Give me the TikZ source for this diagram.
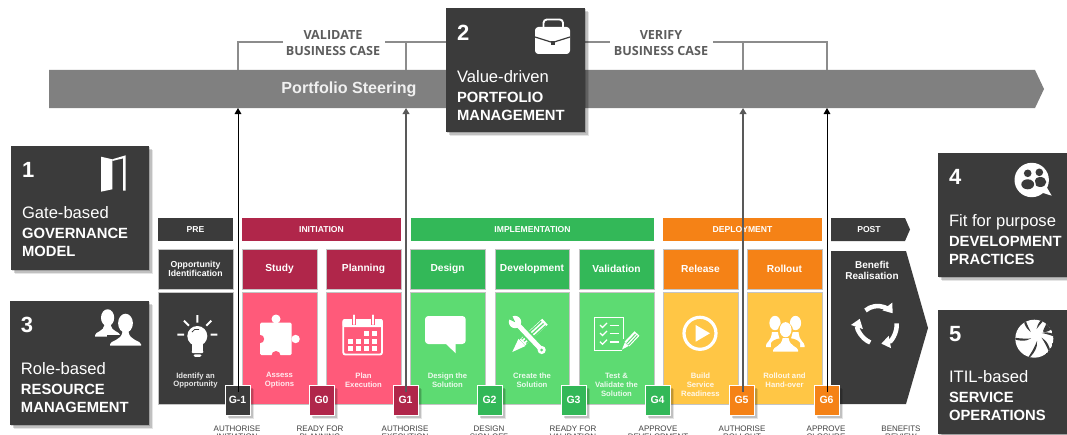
\documentclass[tikz,border=0pt]{standalone}
\usepackage{fontspec}
\setmainfont{Liberation Sans}
\newfontfamily\capfont{Open Sans}
\usetikzlibrary{arrows.meta,shadows}
\definecolor{boxdark}{HTML}{3B3B3B}
\definecolor{crim}{HTML}{B0264A}
\definecolor{pinkc}{HTML}{FF5A7A}
\definecolor{greend}{HTML}{33B858}
\definecolor{greenl}{HTML}{5DDB72}
\definecolor{orangec}{HTML}{F58216}
\definecolor{yellowc}{HTML}{FFC645}
\definecolor{barc}{HTML}{808080}
\definecolor{brk}{HTML}{8C8C8C}
\definecolor{capc}{HTML}{404040}
\definecolor{edgec}{HTML}{C4C4C4}
\newcommand\fpx[2]{\fontsize{\fpeval{#1*0.75}pt}{\fpeval{#2*0.75}pt}\selectfont}
% name, x1, y1, x2, y2, style, text
\newcommand\card[7]{\node[#6,minimum width={(#4-#2)*0.75pt},minimum height={(#5-#3)*0.75pt}] (#1) at ({(#2+#4)/2},{(#3+#5)/2}) {#7};}
% cx, bottom, half width, head height, head rx, colour
\newcommand\person[6]{\begin{scope}[shift={(#1,#2)}]
\fill[#6] (0,-#4) ellipse [x radius=#5,y radius=#5*1.28];
\fill[#6] (-#3,0) -- (-#3,-1.5) .. controls (-#3,-5) and (-4,-5) .. (-3,-#4*0.62) -- (3,-#4*0.62) .. controls (4,-5) and (#3,-5) .. (#3,-1.5) -- (#3,0) -- cycle;
\end{scope}}
\tikzset{
  x=0.75pt,y=-0.75pt,
  base/.style={inner sep=0pt,outer sep=0pt},
  softsh/.style={general shadow={fill=black,opacity=.16,shadow xshift=1pt,shadow yshift=-1pt},
                 general shadow={fill=black,opacity=.16,shadow xshift=2pt,shadow yshift=-2pt},
                 general shadow={fill=black,opacity=.10,shadow xshift=3pt,shadow yshift=-3pt}},
  bigbox/.style={base,fill=boxdark,softsh},
  num/.style={base,text=white,anchor=west,font=\fpx{22}{24}\bfseries},
  boxtxt/.style={base,text=white,anchor=north west,align=left,font=\fpx{14.8}{18}},
  phase/.style={base,fill=#1,text=white,font=\fpx{8.6}{10}\bfseries},
  stage/.style={base,fill=#1,draw=edgec,line width=.4pt,text=white,font=\fpx{10.2}{12}\bfseries},
  body/.style={base,fill=#1,draw=edgec,line width=.4pt},
  desc/.style={base,text=white,text opacity=.88,align=center,font=\fpx{7.7}{8.9}\bfseries},
  gatebox/.style={base,fill=#1,draw=white,line width=.75pt,text=white,softsh,font=\fpx{10.5}{12}\bfseries},
  gatecap/.style={base,text=capc,align=center,font=\fpx{8}{8}},
  conn/.style={black,line width=.65pt,-{Triangle[length=4.5pt,width=5pt]}},
  connsoft/.style={conn,draw=black!65,line width=1.1pt},
  bracket/.style={brk,line width=1.7pt},
  brklab/.style={base,text=capc!85!white,align=center,font=\capfont\fpx{12.6}{16}\bfseries},
  ic/.style={fill=white,draw=none},
}
\begin{document}
\begin{tikzpicture}
\useasboundingbox (0,0) rectangle (1067,435);
\clip (0,0) rectangle (1067,435);
\fill[white] (0,0) rectangle (1067,435);

% portfolio bar
\fill[barc] (49,70) -- (1035,70) -- (1044,89) -- (1035,108) -- (49,108) -- cycle;
\coordinate (barS) at (49,108);
\coordinate (barN) at (49,70);
\node[base,text=white!94!black,font=\fpx{16.1}{18}\bfseries] (steer) at (349,89) {Portfolio Steering};

% brackets
\coordinate (bl1) at (283,42); \coordinate (bl2) at (385,42);
\coordinate (br1) at (610,42); \coordinate (br2) at (713,42);
\coordinate (jA) at (238,42); \coordinate (jB) at (406,42); \coordinate (jC) at (743,42); \coordinate (jD) at (827,42);
\draw[bracket] (bl1) -- (jA) -- (jA |- barN);
\draw[bracket] (jB |- barN) -- (jB);
\draw[bracket] (bl2) -- (446,42);
\draw[bracket] (585,42) -- (br1);
\draw[bracket] (br2) -- (jD) -- (jD |- barN);
\draw[bracket] (jC) -- (jC |- barN);
\node[brklab] (vbc) at (333,43.5) {VALIDATE\\BUSINESS CASE};
\node[brklab] (vfbc) at (661,43.5) {VERIFY\\BUSINESS CASE};

% big boxes
\card{b1}{11}{146}{149}{270}{bigbox}{}
\card{b3}{10}{301}{149}{425}{bigbox}{}
\card{b2}{446}{8}{585}{132}{bigbox}{}
\card{b4}{938}{153}{1080}{277}{bigbox}{}
\card{b5}{938}{310}{1080}{434}{bigbox}{}
\newcommand\lt[1]{{\fpx{16.6}{18}#1}}
\newcommand\bt[1]{{\bfseries #1}}
\node[num] (n1) at (22,170) {1};
\node[boxtxt] (t1) at (22,206) {\lt{Gate-based}\\[1.5pt]\bt{GOVERNANCE}\\\bt{MODEL}};
\node[num] (n3) at (21,325) {3};
\node[boxtxt] (t3) at (21,362) {\lt{Role-based}\\[1.5pt]\bt{RESOURCE}\\\bt{MANAGEMENT}};
\node[num] (n2) at (457,33) {2};
\node[boxtxt] (t2) at (457,70) {\lt{Value-driven}\\[1.5pt]\bt{PORTFOLIO}\\\bt{MANAGEMENT}};
\node[num] (n4) at (949,177) {4};
\node[boxtxt] (t4) at (949,214) {\lt{Fit for purpose}\\[1.5pt]\bt{DEVELOPMENT}\\\bt{PRACTICES}};
\node[num] (n5) at (949,334) {5};
\node[boxtxt] (t5) at (949,370) {\lt{ITIL-based}\\[1.5pt]\bt{SERVICE}\\\bt{OPERATIONS}};

% phase headers
\card{pPre}{158}{218}{233}{241}{phase=boxdark}{PRE}
\card{pIni}{242}{218}{401}{241}{phase=crim}{INITIATION}
\card{pImp}{411}{218}{654}{241}{phase=greend}{IMPLEMENTATION}
\card{pDep}{663}{218}{822}{241}{phase=orangec}{DEPLOYMENT}
\fill[boxdark] (831,218) -- (905,218) -- (910,229.5) -- (905,241) -- (831,241) -- cycle;
\node[base,text=white,font=\fpx{8.6}{10}\bfseries] (pPost) at (869,229.5) {POST};

% stages
\card{sOpp}{158}{249}{233}{289}{stage=boxdark,align=center,font=\fpx{8.7}{9.6}\bfseries}{Opportunity\\Identification}
\card{sStu}{242}{249}{317}{289}{stage=crim}{Study}
\card{sPla}{326}{249}{401}{289}{stage=crim}{Planning}
\card{sDes}{410}{249}{485}{289}{stage=greend}{Design}
\card{sDev}{495}{249}{569}{289}{stage=greend}{Development}
\card{sVal}{579}{249}{654}{289}{stage=greend}{Validation}
\card{sRel}{663}{249}{738}{289}{stage=orangec}{Release}
\card{sRol}{747}{249}{822}{289}{stage=orangec}{Rollout}

% bodies
\card{cOpp}{158}{292}{233}{404}{body=boxdark}{}
\card{cStu}{242}{292}{317}{404}{body=pinkc}{}
\card{cPla}{326}{292}{401}{404}{body=pinkc}{}
\card{cDes}{410}{292}{485}{404}{body=greenl}{}
\card{cDev}{495}{292}{569}{404}{body=greenl}{}
\card{cVal}{579}{292}{654}{404}{body=greenl}{}
\card{cRel}{663}{292}{738}{404}{body=yellowc}{}
\card{cRol}{747}{292}{822}{404}{body=yellowc}{}
\fill[boxdark] (831,251) -- (906,251) -- (928,328) -- (906,404) -- (831,404) -- cycle;
\node[base,text=white,align=center,font=\fpx{10}{11}\bfseries] (benefit) at (872,270.5) {Benefit\\Realisation};

% descriptions
\node[desc] (dOpp) at (195.5,380.5) {Identify an\\Opportunity};
\node[desc] (dStu) at (279.5,380.5) {Assess\\Options};
\node[desc] (dPla) at (363.5,380.5) {Plan\\Execution};
\node[desc] (dDes) at (447.5,380.5) {Design the\\Solution};
\node[desc] (dDev) at (532,380.5) {Create the\\Solution};
\node[desc] (dVal) at (616.5,385) {Test \&\\Validate the\\Solution};
\node[desc] (dRel) at (700.5,385) {Build\\Service\\Readiness};
\node[desc] (dRol) at (784.5,380.5) {Rollout and\\Hand-over};

% gates
\card{gm1}{225}{385}{250}{415}{gatebox=boxdark}{G-1}
\card{g0}{309}{385}{334}{415}{gatebox=crim}{G0}
\card{g1}{393}{385}{418}{415}{gatebox=crim}{G1}
\card{g2}{477}{385}{502}{415}{gatebox=greend}{G2}
\card{g3}{561}{385}{586}{415}{gatebox=greend}{G3}
\card{g4}{645}{385}{670}{415}{gatebox=greend}{G4}
\card{g5}{729}{385}{754}{415}{gatebox=orangec}{G5}
\card{g6}{814}{385}{839}{415}{gatebox=orangec}{G6}

% gate connectors
\coordinate (am1) at ([shift={(.5,7)}]gm1.north);
\coordinate (a1) at ([shift={(.5,7)}]g1.north);
\coordinate (a5) at ([shift={(1.5,7)}]g5.north);
\coordinate (a6) at ([shift={(.5,7)}]g6.north);
\draw[conn] (am1) -- (am1 |- barS);
\draw[connsoft] (a1) -- (a1 |- barS);
\draw[connsoft] (a5) -- (a5 |- barS);
\draw[conn] (a6) -- (a6 |- barS);

% gate captions (cut by the page edge, as in the source)
\node[gatecap] (cm1) at (237,433) {AUTHORISE\\INITIATION};
\node[gatecap] (c0) at (320,433) {READY FOR\\PLANNING};
\node[gatecap] (c1) at (405,433) {AUTHORISE\\EXECUTION};
\node[gatecap] (c2) at (489,433) {DESIGN\\SIGN-OFF};
\node[gatecap] (c3) at (573,433) {READY FOR\\VALIDATION};
\node[gatecap] (c4) at (658,433) {APPROVE\\DEVELOPMENT};
\node[gatecap] (c5) at (742,433) {AUTHORISE\\ROLLOUT};
\node[gatecap] (c6) at (826,433) {APPROVE\\CLOSURE};
\node[gatecap] (c7) at (901,433) {BENEFITS\\REVIEW};

% ---------- icons ----------
% door
\fill[ic] (101,156.7) -- (112.3,159.3) -- (112.3,189.3) -- (101,191.7) -- cycle;
\fill[ic] (112.3,159.3) -- (125.7,155.3) -- (125.7,190.7) -- (123,190.7) -- (123,158.4) -- (112.3,161) -- cycle;
% people
\person{107.6}{336.7}{12.5}{19}{6.6}{white}
\begin{scope}
\fill[boxdark] (126.7,323.3) ellipse [x radius=9.3,y radius=11.5];
\fill[boxdark] (107,347) rectangle (143,335);
\end{scope}
\person{125.5}{345.7}{15.5}{22.5}{7.4}{white}
% briefcase
\draw[white,line width=1.4pt,rounded corners=2.5pt] (543.5,29) -- (543.5,19.5) -- (563,19.5) -- (563,29);
\fill[ic,rounded corners=2.5pt] (535,27) rectangle (570,54);
\draw[boxdark,line width=.9pt] (535,37) -- (552.5,42.5) -- (570,37);
\fill[boxdark] (550.5,41) rectangle (554.5,45.5);
% bulb
\fill[ic] (197.3,336) circle [radius=10];
\fill[ic] (192,343) rectangle (203,351);
\fill[ic,rounded corners=1pt] (191.5,350.5) rectangle (203.5,353.2);
\fill[ic,rounded corners=1pt] (193.5,354.3) rectangle (201.5,356.8);
\draw[boxdark,line width=.6pt] (192,332) .. controls (193,329.5) and (196,328.5) .. (199,329.5);
\draw[white,line width=1.5pt] (197.3,315) -- (197.3,322.7) (184,320.7) -- (189,325.7) (211.3,320.7) -- (206.3,325.7) (177.3,334.7) -- (184,334.7) (210.7,334.7) -- (217.3,334.7);
% puzzle
\fill[ic,rounded corners=1pt] (260,322.7) rectangle (291.7,355);
\fill[ic] (276,319) circle [radius=4.5];
\fill[ic] (295.6,339) circle [radius=4.2];
\fill[pinkc] (260,339) circle [radius=4.2];
\fill[pinkc] (276,355.5) circle [radius=4.5];
% calendar
\draw[white,line width=1.4pt,rounded corners=1.5pt,fill=pinkc] (343.3,320) rectangle (382,354.5);
\fill[ic,rounded corners=1pt] (342.7,319) rectangle (382.7,327);
\foreach \xx in {354.3,373.3}{\draw[pinkc,line width=3pt] (\xx,314) -- (\xx,325); \draw[white,line width=1.6pt,line cap=round] (\xx,315.5) -- (\xx,324);}
\foreach \xx/\yy in {394/332,402/332,378/339.5,386/339.5,394/339.5,402/339.5,378/347,386/347,394/347,402/347}{\fill[ic] ({\xx-30},{\yy-1}) rectangle ++(5,5);}
% speech bubble
\fill[ic,rounded corners=2.5pt] (425,316) rectangle (465.7,344);
\fill[ic] (445,343) -- (455.7,353.3) -- (455.7,343) -- cycle;
% tools
\draw[white,line width=6pt] (545,321.7) -- (522.5,342.4);
\draw[greenl,line width=.9pt] (543.5,323.5) -- (524,341.3) (541.2,321.4) -- (521.7,339.3) (545.8,325.6) -- (526.3,343.5);
\fill[ic] (518.5,338.8) -- (525.4,346) -- (512.3,352) -- cycle;
\draw[greenl,line width=6.4pt] (515,321.7) -- (541.7,350);
\draw[white,line width=3.6pt] (515,321.7) -- (541.7,350);
\fill[ic] (541.7,350) circle [radius=4.1];
\fill[greenl] (541.7,350) circle [radius=1.5];
\fill[ic] (515,322) circle [radius=6.2];
\fill[greenl] (515.2,322.2) -- (511.4,314) -- (508,318.8) -- cycle;
% checklist
\draw[white,line width=1pt] (623.3,339) -- (623.3,317.8) -- (594.5,317.8) -- (594.5,350.8) -- (622,350.8);
\foreach \yy in {325,333,341.7}{
  \draw[white,line width=1pt] (600,\yy) -- (602.5,{\yy+2.5}) -- (607,{\yy-2});
  \draw[white,line width=1pt] (609.5,{\yy+.3}) -- (619,{\yy+.3});
}
\draw[white,line width=5pt] (637,333.5) -- (627,344);
\draw[greenl,line width=.7pt] (635.5,334) -- (626.5,343.5) (637.3,335.5) -- (628.5,345);
\fill[ic] (624.8,342.5) -- (628.6,346) -- (622,349.5) -- cycle;
% play
\draw[white,line width=2.4pt] (700,333.3) circle [radius=16];
\fill[ic] (695.7,325) -- (710,333.3) -- (695.7,341.7) -- cycle;
% group
\person{775}{347}{9}{24}{5.6}{white}
\person{795.5}{347}{9}{24}{5.6}{white}
\fill[yellowc] (785.5,330) circle [radius=7.4];
\fill[yellowc] (771,353) -- (771,343) .. controls (775,336) and (796,336) .. (800,343) -- (800,353) -- cycle;
\person{785.6}{351.7}{12.5}{22}{5.9}{white}
% cycle
\foreach \aa/\bb in {230/322,-5/79,113/199}{
  \draw[white,line width=3.4pt,-{Triangle[length=6.5pt,width=9pt]}] ({877.7+19*cos(\aa)},{325+19*sin(\aa)}) arc [start angle=\aa,end angle=\bb,radius=19];
}
% chat
\fill[ic] (1031.7,180) circle [radius=17.2];
\fill[ic] (1040,192) -- (1051.7,195.7) -- (1046,186) -- cycle;
\fill[boxdark] (1027.7,173.3) circle [radius=3.8];
\fill[boxdark] (1039.3,172.3) circle [radius=3.8];
\fill[boxdark] (1040.3,182) ellipse [x radius=6,y radius=5];
\fill[white] (1027.7,184) ellipse [x radius=8,y radius=6.5];
\fill[boxdark] (1027.7,184.3) ellipse [x radius=6.4,y radius=5];
% swirl
\begin{scope}
\clip (1034.3,338.7) circle [radius=19];
\fill[white] (1034.3,338.7) circle [radius=19];
\foreach \rr in {20,85,150,215,280,335}{
  \begin{scope}[shift={(1036,335)},rotate=\rr]
    \fill[boxdark] (6,0) .. controls (12,0.5) and (18,4) .. (24,15) .. controls (17,7.5) and (11,3) .. (6,0) -- cycle;
  \end{scope}
}
\fill[boxdark] (1047,320) .. controls (1046,328) and (1041,331) .. (1044,332.5) .. controls (1050,331) and (1054,329) .. (1057,322) -- cycle;
\end{scope}
\end{tikzpicture}
\end{document}
